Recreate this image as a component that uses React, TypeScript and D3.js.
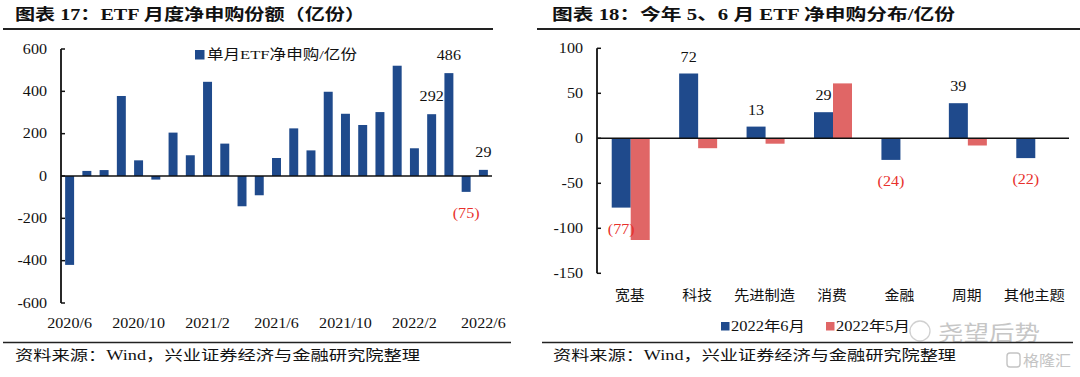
import React from "react";
import * as d3 from "d3";

const months = ["2020/6","2020/7","2020/8","2020/9","2020/10","2020/11","2020/12","2021/1","2021/2","2021/3","2021/4","2021/5","2021/6","2021/7","2021/8","2021/9","2021/10","2021/11","2021/12","2022/1","2022/2","2022/3","2022/4","2022/5","2022/6"];
const monthlyNet = [-420,24,28,378,74,-17,205,98,445,153,-143,-91,85,225,121,398,294,241,302,521,131,292,486,-75,29];
const labeledMonths = ["2022/3","2022/4","2022/5","2022/6"];
const leftXTicks = ["2020/6","2020/10","2021/2","2021/6","2021/10","2022/2","2022/6"];
const leftYTicks = [600,400,200,0,-200,-400,-600];

const categories = ["宽基","科技","先进制造","消费","金融","周期","其他主题"];
const june = [-77,72,13,29,-24,39,-22];
const may = [-113,-11,-6,61,0,-8,0];
const rightYTicks = [100,50,0,-50,-100,-150];
const seriesNames = ["2022年6月","2022年5月"];

const BLUE = "#1f4a8c";
const RED = "#e06666";
const LABEL_RED = "#e8302c";
const SERIF = "'Liberation Serif','Times New Roman','Noto Sans CJK SC',serif";
const CJK = "'Liberation Serif','Noto Sans CJK SC',serif";
const SANS = "'Noto Sans CJK SC',sans-serif";

function Txt({ x, y, children, size = 14, anchor = "start", fill = "#111", weight = "normal", sx = 1.15, len, family = SERIF }: any) {
  if (len) {
    return (
      <text x={x} y={y} fontSize={size} textAnchor={anchor} fill={fill} fontWeight={weight} fontFamily={family}
        textLength={len} lengthAdjust="spacingAndGlyphs">{children}</text>
    );
  }
  return (
    <text transform={`translate(${x},${y}) scale(${sx},1)`} fontSize={size} textAnchor={anchor} fill={fill}
      fontWeight={weight} fontFamily={family}>{children}</text>
  );
}

const fmt = (v: number) => (v < 0 ? `(${Math.abs(v)})` : `${v}`);

export default function App() {
  const xL = d3.scaleBand<string>().domain(months).range([61, 492]).paddingInner(0.48).paddingOuter(0.24);
  const yL = d3.scaleLinear().domain([-600, 600]).range([303, 49]);
  const xR = d3.scaleBand<string>().domain(categories).range([597, 1069]);
  const xS = d3.scaleBand<string>().domain(seriesNames).range([0, 38]);
  const yR = d3.scaleLinear().domain([-150, 100]).range([273.3, 48.3]);
  const groupX = (c: string) => (xR(c) as number) + xR.bandwidth() / 2 - 19;

  return (
    <svg width={1080} height={377} style={{ position: "absolute", left: 0, top: 0, background: "#fff" }}>
      <rect width={1080} height={377} fill="#fff" />
      {/* Titles */}
      <Txt x={15} y={20} size={16} weight="bold" len={350} family={CJK}>图表 17：ETF 月度净申购份额（亿份）</Txt>
      <line x1={3} x2={493} y1={29} y2={29} stroke="#222" strokeWidth={1.8} />
      <Txt x={552} y={20} size={16} weight="bold" len={403} family={CJK}>图表 18：今年 5、6 月 ETF 净申购分布/亿份</Txt>
      <line x1={537} x2={1080} y1={29} y2={29} stroke="#222" strokeWidth={1.8} />

      {/* LEFT CHART */}
      {monthlyNet.map((v, i) => {
        const m = months[i];
        return (
          <rect key={m} x={xL(m)} width={xL.bandwidth()} y={Math.min(yL(v), yL(0))}
            height={Math.abs(yL(v) - yL(0))} fill={BLUE} />
        );
      })}
      <line x1={61} x2={61} y1={yL(600)} y2={yL(-600)} stroke="#111" strokeWidth={1.8} />
      {leftYTicks.map((t) => (
        <g key={t}>
          <line x1={61} x2={65} y1={yL(t)} y2={yL(t)} stroke="#111" strokeWidth={1.5} />
          <Txt x={47} y={yL(t) + 4.5} anchor="end">{t}</Txt>
        </g>
      ))}
      <line x1={61} x2={492} y1={yL(0)} y2={yL(0)} stroke="#111" strokeWidth={1.6} />
      {leftXTicks.map((m) => (
        <Txt key={m} x={(xL(m) as number) + xL.bandwidth() / 2} y={328} anchor="middle">{m}</Txt>
      ))}
      {labeledMonths.map((m) => {
        const v = monthlyNet[months.indexOf(m)];
        const cx = (xL(m) as number) + xL.bandwidth() / 2;
        return v >= 0 ? (
          <Txt key={m} x={cx} y={yL(v) - 13} anchor="middle">{fmt(v)}</Txt>
        ) : (
          <Txt key={m} x={cx} y={yL(v) + 26} anchor="middle" fill={LABEL_RED}>{fmt(v)}</Txt>
        );
      })}
      <rect x={195} y={50} width={9.5} height={9.5} fill={BLUE} />
      <Txt x={207} y={59} size={13.5} len={150} family={CJK}>单月ETF净申购/亿份</Txt>

      {/* RIGHT CHART */}
      {categories.map((c, i) => (
        <g key={c}>
          {[june[i], may[i]].map((v, j) => (
            <rect key={j} x={groupX(c) + (xS(seriesNames[j]) as number)} width={xS.bandwidth()}
              y={Math.min(yR(v), yR(0))} height={Math.abs(yR(v) - yR(0))} fill={j === 0 ? BLUE : RED} />
          ))}
        </g>
      ))}
      <line x1={597} x2={597} y1={yR(100)} y2={yR(-150)} stroke="#111" strokeWidth={1.8} />
      {rightYTicks.map((t) => (
        <g key={t}>
          <line x1={597} x2={601} y1={yR(t)} y2={yR(t)} stroke="#111" strokeWidth={1.5} />
          <Txt x={583} y={yR(t) + 4.5} anchor="end">{t}</Txt>
        </g>
      ))}
      <line x1={597} x2={1069} y1={yR(0)} y2={yR(0)} stroke="#111" strokeWidth={1.6} />
      {categories.map((c) => (
        <Txt key={c} x={(xR(c) as number) + xR.bandwidth() / 2 - (c.length * 15.8) / 2} y={300} size={14}
          len={c.length * 15.8 - 2} family={CJK}>{c}</Txt>
      ))}
      {categories.map((c, i) => {
        const v = june[i];
        const cx = groupX(c) + (xS(seriesNames[0]) as number) + xS.bandwidth() / 2;
        return v >= 0 ? (
          <Txt key={c} x={cx} y={yR(v) - 12} anchor="middle">{fmt(v)}</Txt>
        ) : (
          <Txt key={c} x={cx} y={yR(v) + 26} anchor="middle" fill={LABEL_RED}>{fmt(v)}</Txt>
        );
      })}
      <rect x={721} y={322} width={8.5} height={8.5} fill={BLUE} />
      <Txt x={731} y={331} size={14} len={74} family={CJK}>{seriesNames[0]}</Txt>
      <rect x={826} y={322} width={8.5} height={8.5} fill={RED} />
      <Txt x={836} y={331} size={14} len={74} family={CJK}>{seriesNames[1]}</Txt>

      {/* watermark */}
      <circle cx={920} cy={331} r={10} fill="none" stroke="#c8c8c8" strokeWidth={1.3} opacity={0.85} />
      <Txt x={938} y={340} size={21} len={102} fill="#c6c6c6" family={SANS}>尧望后势</Txt>
      <rect x={1007} y={353} width={13} height={14} rx={3} fill="none" stroke="#c4c4c4" strokeWidth={1.4} />
      <Txt x={1023} y={366} size={15} len={48} fill="#c4c4c4" family={SANS}>格隆汇</Txt>

      {/* footers */}
      <line x1={3} x2={511} y1={342.5} y2={342.5} stroke="#222" strokeWidth={1.5} />
      <Txt x={15} y={360} size={14} len={405} family={CJK}>资料来源：Wind，兴业证券经济与金融研究院整理</Txt>
      <line x1={542} x2={1073} y1={342.5} y2={342.5} stroke="#222" strokeWidth={1.5} />
      <Txt x={553} y={360} size={14} len={403} family={CJK}>资料来源：Wind，兴业证券经济与金融研究院整理</Txt>
    </svg>
  );
}
